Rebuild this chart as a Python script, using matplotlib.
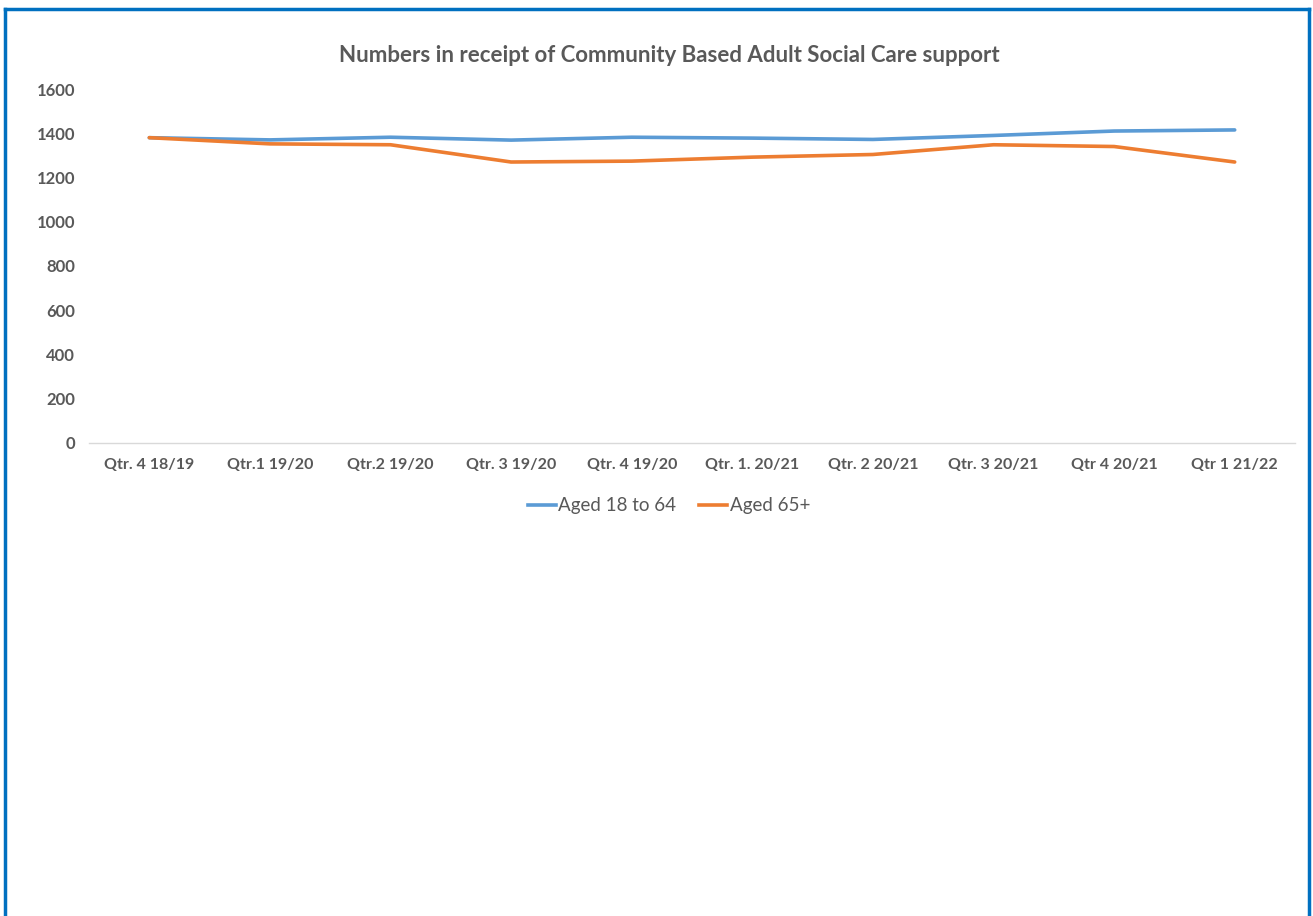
import matplotlib
matplotlib.use("Agg")
import matplotlib.pyplot as plt
from matplotlib.lines import Line2D

categories = ["Qtr. 4 18/19", "Qtr.1 19/20", "Qtr.2 19/20", "Qtr. 3 19/20", "Qtr. 4 19/20",
              "Qtr. 1. 20/21", "Qtr. 2 20/21", "Qtr. 3 20/21", "Qtr 4 20/21", "Qtr 1 21/22"]
aged_18_64 = [1380, 1370, 1382, 1369, 1382, 1378, 1372, 1390, 1410, 1415]
aged_65 = [1380, 1352, 1348, 1270, 1274, 1292, 1304, 1348, 1340, 1270]
yticks = [0, 200, 400, 600, 800, 1000, 1200, 1400, 1600]

plt.rcParams['font.family'] = ['Lato', 'DejaVu Sans']
grey = '#595959'

fig = plt.figure(figsize=(13.13, 9.16), dpi=100)
ax = fig.add_axes([89/1313, 1-443/916, (1295-89)/1313, (443-89)/916])

x = list(range(len(categories)))
ax.plot(x, aged_18_64, color='#5B9BD5', lw=2.6, solid_capstyle='round', label='Aged 18 to 64')
ax.plot(x, aged_65, color='#ED7D31', lw=2.6, solid_capstyle='round', label='Aged 65+')

ax.set_xlim(-0.5, len(categories)-0.5)
ax.set_ylim(0, 1600)
ax.set_yticks(yticks)
ax.set_yticklabels([str(v) for v in yticks], fontsize=12, fontweight='bold', color=grey)
ax.set_xticks(x)
ax.set_xticklabels(categories, fontsize=11.5, fontweight='bold', color=grey)
ax.tick_params(axis='both', length=0)
ax.tick_params(axis='y', pad=10)
ax.tick_params(axis='x', pad=11)
for s in ['top', 'right', 'left']:
    ax.spines[s].set_visible(False)
ax.spines['bottom'].set_color('#D9D9D9')
ax.spines['bottom'].set_linewidth(1)

fig.text(669/1313, 1-56/916, "Numbers in receipt of Community Based Adult Social Care support",
         ha='center', va='center', fontsize=16, fontweight='bold', color=grey)

leg = fig.legend(handles=[Line2D([], [], color='#5B9BD5', lw=2.6), Line2D([], [], color='#ED7D31', lw=2.6)],
                 labels=['Aged 18 to 64', 'Aged 65+'], loc='center', bbox_to_anchor=(669/1313, 1-506/916),
                 ncol=2, frameon=False, fontsize=13.5, handlelength=1.5, handletextpad=0.15, columnspacing=1.2,
                 labelcolor=grey)

bc = '#0070C0'
fig.add_artist(Line2D([5/1313, 1309/1313], [1-9/916, 1-9/916], color=bc, lw=2.5, transform=fig.transFigure))
fig.add_artist(Line2D([5/1313, 5/1313], [1-9/916, 0], color=bc, lw=2.5, transform=fig.transFigure))
fig.add_artist(Line2D([1309/1313, 1309/1313], [1-9/916, 0], color=bc, lw=2.5, transform=fig.transFigure))

fig.savefig("out.png", dpi=100, facecolor='white')
